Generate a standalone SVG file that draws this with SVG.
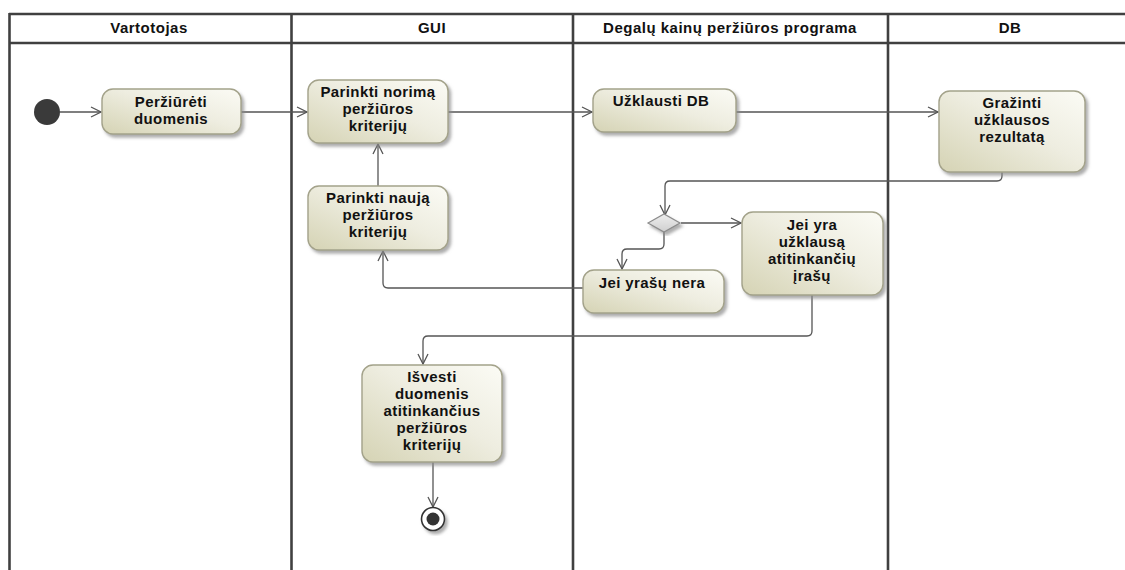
<svg xmlns="http://www.w3.org/2000/svg" width="1125" height="570" viewBox="0 0 1125 570">
  <style>
    .lane { stroke: #404040; stroke-width: 2.6; fill: none; }
    .hdr { font-family: "Liberation Sans", Arial, sans-serif; font-weight: bold; font-size: 15px; letter-spacing: 0.5px; fill: #111; text-anchor: middle; }
    .act { fill: url(#actFill); stroke: #a3a28a; stroke-width: 1.4; filter: url(#shadow); }
    .lbl { font-family: "Liberation Sans", Arial, sans-serif; font-weight: bold; font-size: 15px; letter-spacing: 0.4px; fill: #111; text-anchor: middle; }
    .flow { fill: none; stroke: #555; stroke-width: 1.3; marker-end: url(#open); }
  </style>
  <defs>
    <linearGradient id="actFill" x1="0" y1="1" x2="1" y2="0">
      <stop offset="0" stop-color="#d5d3b4"/>
      <stop offset="0.55" stop-color="#eeede0"/>
      <stop offset="1" stop-color="#fbfbf5"/>
    </linearGradient>
    <linearGradient id="decFill" x1="0" y1="0" x2="0" y2="1">
      <stop offset="0" stop-color="#eeeeee"/>
      <stop offset="1" stop-color="#cfcfcf"/>
    </linearGradient>
    <filter id="shadow" x="-10%" y="-10%" width="130%" height="130%">
      <feDropShadow dx="2.5" dy="3" stdDeviation="1.4" flood-color="#8a8a8a" flood-opacity="0.7"/>
    </filter>
    <marker id="open" viewBox="0 0 12 12" refX="11" refY="6" markerWidth="12" markerHeight="12" markerUnits="userSpaceOnUse" orient="auto">
      <path d="M1,1 L11,6 L1,11" fill="none" stroke="#555" stroke-width="1.3"/>
    </marker>
  </defs>

  <rect width="1125" height="570" fill="#ffffff"/>

  <!-- swimlanes -->
  <g id="lanes">
    <line class="lane" x1="9" y1="14" x2="1125" y2="14"/>
    <line class="lane" x1="9" y1="43" x2="1125" y2="43"/>
    <line class="lane" x1="9.5" y1="13" x2="9.5" y2="570"/>
    <line class="lane" x1="291.5" y1="13" x2="291.5" y2="570"/>
    <line class="lane" x1="573" y1="13" x2="573" y2="570"/>
    <line class="lane" x1="888" y1="13" x2="888" y2="570"/>
    <text class="hdr" x="149" y="33">Vartotojas</text>
    <text class="hdr" x="432" y="33">GUI</text>
    <text class="hdr" x="730" y="33">Degalų kainų peržiūros programa</text>
    <text class="hdr" x="1010" y="33">DB</text>
  </g>

  <!-- control flows -->
  <g id="connectors">
    <line class="flow" x1="60" y1="112" x2="101" y2="112"/>
    <line class="flow" x1="241" y1="112" x2="307" y2="112"/>
    <line class="flow" x1="448" y1="112" x2="592" y2="112"/>
    <line class="flow" x1="736" y1="112" x2="938" y2="112"/>
    <line class="flow" x1="378" y1="186" x2="378" y2="144"/>
    <path class="flow" d="M1002,172 V176 Q1002,181 997,181 H670 Q665,181 665,186 V215"/>
    <line class="flow" x1="681" y1="223" x2="741" y2="223"/>
    <path class="flow" d="M664,232 V244 Q664,249 659,249 H627 Q622,249 622,254 V269"/>
    <path class="flow" d="M583,288 H388 Q383,288 383,283 V251"/>
    <path class="flow" d="M812,295 V331 Q812,336 807,336 H428 Q423,336 423,341 V364"/>
    <line class="flow" x1="433" y1="462" x2="433" y2="507"/>
  </g>

  <!-- initial node -->
  <g id="start">
    <circle cx="47" cy="112" r="13" fill="#3a3a3a"/>
  </g>

  <g id="perziureti">
    <rect class="act" x="102" y="89" width="139" height="45" rx="11"/>
    <text class="lbl" x="171" y="107">Peržiūrėti</text>
    <text class="lbl" x="171" y="124">duomenis</text>
  </g>

  <g id="parinkti-norima">
    <rect class="act" x="308" y="80" width="140" height="63" rx="11"/>
    <text class="lbl" x="378" y="97">Parinkti norimą</text>
    <text class="lbl" x="378" y="114">peržiūros</text>
    <text class="lbl" x="378" y="131">kriterijų</text>
  </g>

  <g id="parinkti-nauja">
    <rect class="act" x="308" y="186" width="140" height="64" rx="11"/>
    <text class="lbl" x="378" y="203">Parinkti naują</text>
    <text class="lbl" x="378" y="220">peržiūros</text>
    <text class="lbl" x="378" y="237">kriterijų</text>
  </g>

  <g id="uzklausti-db">
    <rect class="act" x="593" y="89" width="143" height="43" rx="11"/>
    <text class="lbl" x="661" y="106">Užklausti DB</text>
  </g>

  <g id="grazinti">
    <rect class="act" x="939" y="91" width="146" height="81" rx="11"/>
    <text class="lbl" x="1012" y="108">Gražinti</text>
    <text class="lbl" x="1012" y="125">užklausos</text>
    <text class="lbl" x="1012" y="142">rezultatą</text>
  </g>

  <g id="decision">
    <polygon points="648,223 664,214 680,223 664,232" fill="url(#decFill)" stroke="#8c8c8c" stroke-width="1.2" filter="url(#shadow)"/>
  </g>

  <g id="jei-yra">
    <rect class="act" x="742" y="212" width="141" height="83" rx="11"/>
    <text class="lbl" x="812" y="230">Jei yra</text>
    <text class="lbl" x="812" y="247">užklausą</text>
    <text class="lbl" x="812" y="264">atitinkančių</text>
    <text class="lbl" x="812" y="281">įrašų</text>
  </g>

  <g id="jei-nera">
    <rect class="act" x="583" y="270" width="141" height="43" rx="11"/>
    <text class="lbl" x="652" y="288">Jei yrašų nera</text>
  </g>

  <g id="isvesti">
    <rect class="act" x="362" y="365" width="140" height="97" rx="11"/>
    <text class="lbl" x="432" y="382">Išvesti</text>
    <text class="lbl" x="432" y="399">duomenis</text>
    <text class="lbl" x="432" y="416">atitinkančius</text>
    <text class="lbl" x="432" y="433">peržiūros</text>
    <text class="lbl" x="432" y="450">kriterijų</text>
  </g>

  <!-- final node -->
  <g id="end">
    <circle cx="433" cy="519" r="11.5" fill="#ffffff" stroke="#333" stroke-width="1.6" filter="url(#shadow)"/>
    <circle cx="433" cy="519" r="6.5" fill="#333"/>
  </g>
</svg>
